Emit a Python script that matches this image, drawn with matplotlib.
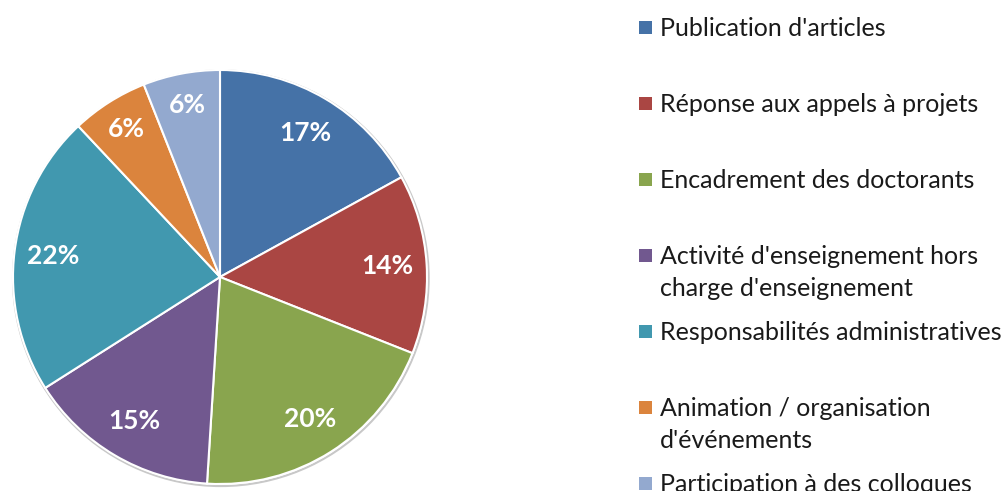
import matplotlib.pyplot as plt
from matplotlib.patches import Circle

# Data
categories = [
    "Publication d'articles",
    "Réponse aux appels à projets",
    "Encadrement des doctorants",
    "Activité d'enseignement hors\ncharge d'enseignement",
    "Responsabilités administratives",
    "Animation / organisation\nd'événements",
    "Participation à des colloques",
]
shares = [17, 14, 20, 15, 22, 6, 6]
colors = ['#4572A7', '#AA4643', '#89A54E', '#71588F', '#4198AF', '#DB843D', '#93A9CF']

plt.rcParams['font.family'] = ['Lato', 'DejaVu Sans']

W, H = 1003, 491
fig = plt.figure(figsize=(W / 100, H / 100), dpi=100)

# pie axes: centre (220, 277) px, radius 207 px
cx, cy, r = 220, 277, 207
ax = fig.add_axes([(cx - r) / W, (H - cy - r) / H, 2 * r / W, 2 * r / H])

wedges, texts, autotexts = ax.pie(
    shares, colors=colors, startangle=90, counterclock=False, radius=1,
    autopct='%d%%', pctdistance=0.81,
    wedgeprops=dict(edgecolor='white', linewidth=1.5),
    textprops=dict(color='white', fontsize=19, fontweight='bold'),
)
ax.set_xlim(-1, 1)
ax.set_ylim(-1, 1)
ax.set_aspect('equal')
ax.axis('off')

# faint grey rim like the original
ax.add_patch(Circle((0.004, -0.006), 1.004, facecolor='none', edgecolor='#c8c8c8',
                    lw=1.5, zorder=0, clip_on=False))

# the two narrow slices carry their labels a bit further out
for i in (5, 6):
    x, y = autotexts[i].get_position()
    autotexts[i].set_position((x * 0.845 / 0.81, y * 0.845 / 0.81))

# legend drawn by hand to follow the spread-out layout
leg_x, txt_x = 646, 660
y0, step, line_h = 27, 76, 31
for i, (lab, col) in enumerate(zip(categories, colors)):
    yc = y0 + step * i
    fig.patches.append(plt.Rectangle(((leg_x - 6.5) / W, 1 - (yc + 6.5) / H), 13 / W, 13 / H,
                                     transform=fig.transFigure, facecolor=col, edgecolor='none'))
    for j, line in enumerate(lab.split('\n')):
        fig.text(txt_x / W, 1 - (yc + j * line_h) / H, line, fontsize=18,
                 color='#1a1a1a', va='center_baseline', ha='left')

fig.savefig('out.png', dpi=100)
